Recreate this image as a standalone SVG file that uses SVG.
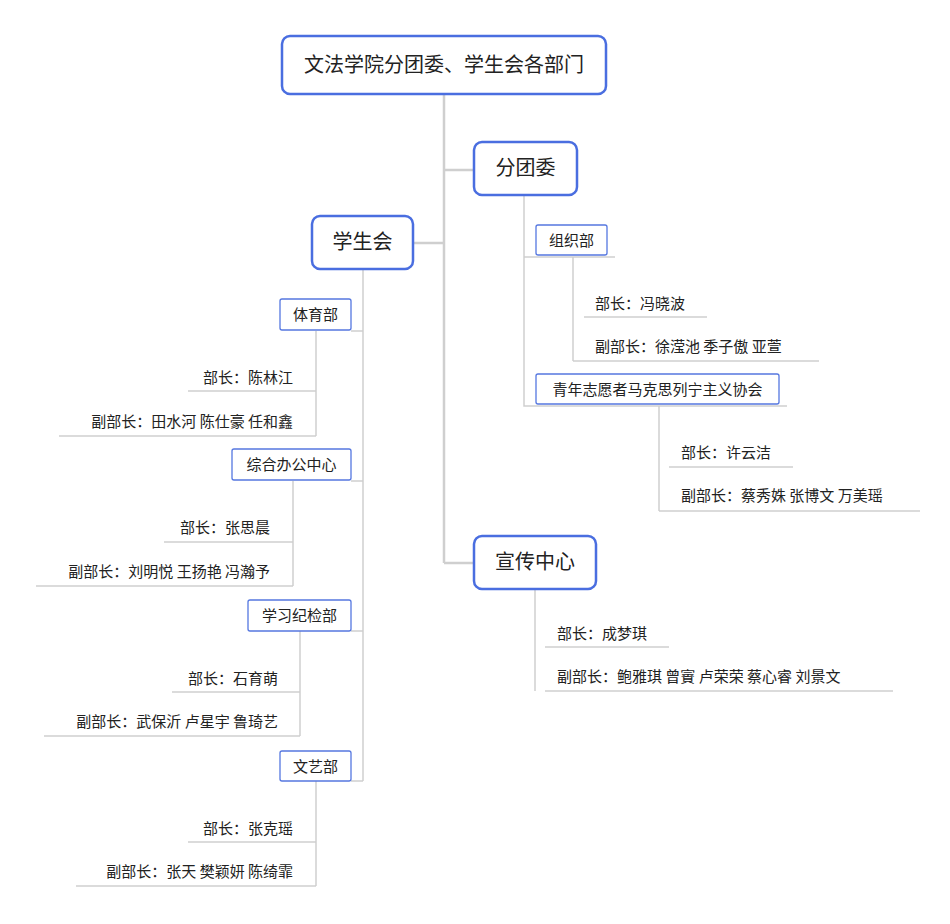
<svg xmlns="http://www.w3.org/2000/svg" width="950" height="924" viewBox="0 0 950 924">
<style>
text{font-family:"Noto Sans CJK SC","Noto Sans",sans-serif;fill:#222}
.main{fill:#fff;stroke:#4a6ee0;stroke-width:2.5}
.sub{fill:#fff;stroke:#5577e0;stroke-width:1.3}
.c{stroke:#cfcfcf;stroke-width:1.5;fill:none}
.t{stroke:#cfcfcf;stroke-width:2.5;fill:none}
.m{font-size:20px}
.s{font-size:15px}
.r{text-anchor:end}
</style>
<rect width="950" height="924" fill="#fff"/>
<g id="connectors">
<path class="t" d="M444 94V563M444 170H474M444 243H413M444 563H474"/>
<path class="c" d="M524 195V406H787M524 257H615M573 257V361M584 317H707M573 361H819M659 406V511M669 467H793M659 511H920"/>
<path class="c" d="M363 269V781M351 331H363M316 331V436M188 391H316M59 436H316M351 481H363M293 481V586M164 542H293M36 586H293M351 631H363M300 631V736M172 692H300M44 736H300M351 781H363M316 781V886M188 842H316M76 886H316"/>
<path class="c" d="M535 589V691M545 647H669M545 691H893"/>
</g>
<g id="root"><rect class="main" x="282" y="36" width="324" height="58" rx="8"/><text class="m" x="444" y="72" text-anchor="middle">文法学院分团委、学生会各部门</text></g>
<g id="fentuanwei"><rect class="main" x="474" y="142" width="103" height="53" rx="8"/><text class="m" x="525.5" y="175" text-anchor="middle">分团委</text></g>
<g id="xueshenghui"><rect class="main" x="312" y="216" width="101" height="53" rx="8"/><text class="m" x="362.5" y="249" text-anchor="middle">学生会</text></g>
<g id="xuanchuan"><rect class="main" x="474" y="536" width="122" height="53" rx="8"/><text class="m" x="535" y="569" text-anchor="middle">宣传中心</text></g>
<g id="zuzhibu"><rect class="sub" x="536" y="225" width="71" height="30" rx="2"/><text class="s" x="571.5" y="246" text-anchor="middle">组织部</text>
<text class="s" x="595" y="309">部长：冯晓波</text><text class="s" x="595" y="352">副部长：徐滢池  季子傲  亚萱</text></g>
<g id="qingnian"><rect class="sub" x="536" y="374" width="243" height="30" rx="2"/><text class="s" x="657.5" y="395" text-anchor="middle">青年志愿者马克思列宁主义协会</text>
<text class="s" x="681" y="458">部长：许云洁</text><text class="s" x="681" y="501">副部长：蔡秀姝  张博文  万美瑶</text></g>
<g id="tiyubu"><rect class="sub" x="280" y="299" width="71" height="31" rx="2"/><text class="s" x="315.5" y="320" text-anchor="middle">体育部</text>
<text class="s r" x="293" y="383">部长：陈林江</text><text class="s r" x="293" y="427">副部长：田水河  陈仕豪  任和鑫</text></g>
<g id="zonghe"><rect class="sub" x="232" y="449" width="119" height="31" rx="2"/><text class="s" x="291.5" y="470" text-anchor="middle">综合办公中心</text>
<text class="s r" x="270" y="533">部长：张思晨</text><text class="s r" x="270" y="577">副部长：刘明悦  王扬艳  冯瀚予</text></g>
<g id="xuexi"><rect class="sub" x="248" y="600" width="103" height="31" rx="2"/><text class="s" x="299.5" y="621" text-anchor="middle">学习纪检部</text>
<text class="s r" x="278" y="684">部长：石育萌</text><text class="s r" x="278" y="727">副部长：武保沂  卢星宇  鲁琦艺</text></g>
<g id="wenyibu"><rect class="sub" x="280" y="751" width="71" height="30" rx="2"/><text class="s" x="315.5" y="772" text-anchor="middle">文艺部</text>
<text class="s r" x="293" y="834">部长：张克瑶</text><text class="s r" x="293" y="877">副部长：张天  樊颖妍  陈绮霏</text></g>
<g id="xuanchuan-leaves"><text class="s" x="557" y="639">部长：成梦琪</text><text class="s" x="557" y="682">副部长：鲍雅琪  曾賨  卢荣荣  蔡心睿  刘景文</text></g>
</svg>
